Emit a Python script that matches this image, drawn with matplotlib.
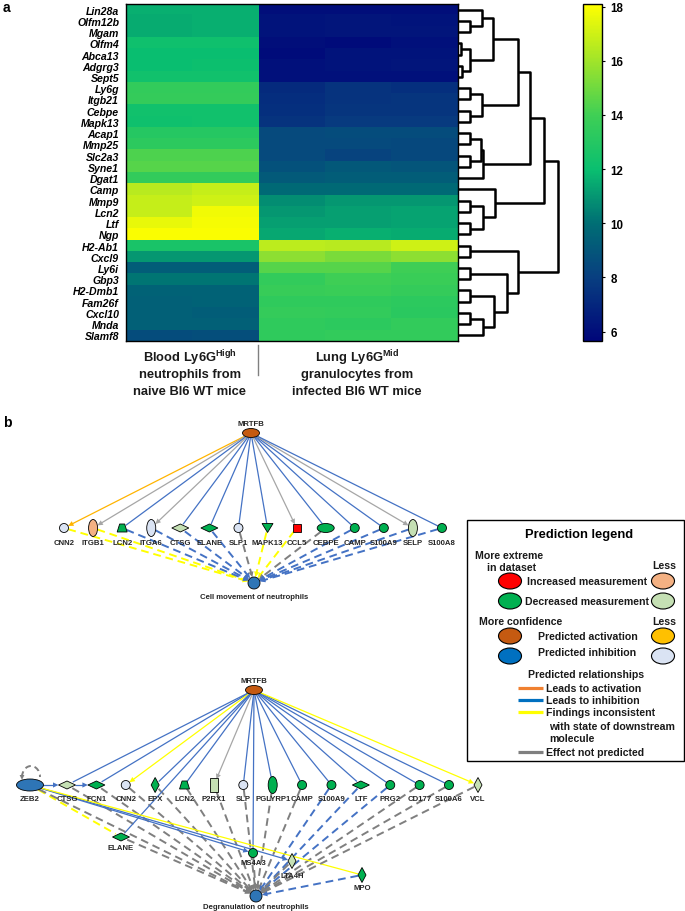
import matplotlib.pyplot as plt
import numpy as np
from matplotlib.colors import LinearSegmentedColormap
from matplotlib.patches import Ellipse, Polygon, Rectangle, Arc

plt.rcParams['font.family'] = ['Liberation Sans', 'DejaVu Sans']
plt.rcParams['mathtext.fontset'] = 'custom'
plt.rcParams['mathtext.bf'] = 'Liberation Sans:bold'
plt.rcParams['mathtext.rm'] = 'Liberation Sans'

W, H = 685, 912

# ---------------- panel a data ----------------
genes = ['Lin28a', 'Olfm12b', 'Mgam', 'Olfm4', 'Abca13', 'Adgrg3', 'Sept5', 'Ly6g',
         'Itgb21', 'Cebpe', 'Mapk13', 'Acap1', 'Mmp25', 'Slc2a3', 'Syne1', 'Dgat1',
         'Camp', 'Mmp9', 'Lcn2', 'Ltf', 'Ngp', 'H2-Ab1', 'Cxcl9', 'Ly6i', 'Gbp3',
         'H2-Dmb1', 'Fam26f', 'Cxcl10', 'Mnda', 'Slamf8']
blood_rep1 = [11.6, 11.5, 11.5, 12.2, 12.0, 12.0, 12.3, 13.5, 13.6, 12.3, 12.2, 13.0, 13.3, 14.3, 14.5,
              13.5, 16.5, 16.8, 16.8, 17.6, 18.0, 12.6, 11.0, 9.3, 10.2, 9.5, 9.4, 9.4, 9.4, 8.6]
blood_rep2 = [11.6, 11.6, 11.6, 12.2, 12.0, 12.1, 12.3, 13.5, 13.6, 12.3, 12.3, 13.0, 13.3, 14.3, 14.5,
              13.5, 16.8, 17.0, 17.8, 17.9, 18.0, 12.6, 11.0, 9.3, 10.2, 9.5, 9.5, 9.3, 9.4, 8.7]
lung_rep1 = [6.0, 6.2, 6.2, 6.0, 5.9, 6.1, 6.1, 7.2, 7.3, 7.4, 7.5, 8.5, 8.5, 8.5, 8.8,
             9.2, 9.8, 10.8, 11.0, 11.2, 11.4, 16.6, 15.6, 14.5, 13.5, 13.7, 13.4, 13.6, 13.4, 13.4]
lung_rep2 = [6.0, 6.3, 6.3, 5.9, 6.2, 6.2, 6.1, 7.5, 7.5, 7.6, 7.8, 8.6, 8.5, 8.2, 9.1,
             9.3, 9.8, 11.0, 11.2, 11.2, 11.6, 16.5, 15.2, 14.5, 14.0, 13.8, 13.4, 13.5, 13.3, 13.5]
lung_rep3 = [6.0, 6.2, 6.3, 6.1, 6.2, 6.3, 6.1, 7.4, 7.6, 7.6, 7.8, 8.6, 8.4, 8.4, 9.0,
             9.3, 9.8, 11.0, 11.3, 11.3, 11.5, 17.0, 15.6, 14.0, 13.8, 13.6, 13.3, 13.2, 13.5, 13.5]
cbar_ticks = [6, 8, 10, 12, 14, 16, 18]

# dendrogram: (height, left, right), leaves are row indices
tree_top = (35, (24, 0, (12, 1, 2)), (12, (3, 3, 4), (4, 5, 6)))
tree_a = (60, tree_top, (24, (12, 7, 8), (12, 9, 10)))
tree_b = (72, tree_a, (25, (23, (12, 11, 12), (12, 13, 14)), 15))
tree_c = (86, tree_b, (37, 16, (25, (12, 17, 18), (12, 19, 20))))
tree_d = (60, (12, 21, 22), (49, (12, 23, 24), (36, (12, 25, 26), (25, (12, 27, 28), 29))))
tree = (100, tree_c, tree_d)

# ---------------- panel b data ----------------
INC, INC_L = '#ff0000', '#f4b183'
DEC, DEC_L = '#00b050', '#c5e0b4'
ACT, ACT_L = '#c55a11', '#ffc000'
INH, INH_L = '#2e75b6', '#dae3f3'
E_BLUE, E_GRAY, E_DGRAY, E_YEL, E_ORG = '#4472c4', '#a6a6a6', '#7f7f7f', '#ffff00', '#ffb400'

top_names = ['CNN2', 'ITGB1', 'LCN2', 'ITGA6', 'CTSG', 'ELANE', 'SLP1', 'MAPK13', 'CCL5',
             'CEBPE', 'CAMP', 'S100A9', 'SELP', 'S100A8']
top_shapes = ['circle', 'vellipse', 'trapezoid', 'vellipse', 'diamond', 'diamond', 'circle',
              'triangle', 'square', 'hellipse', 'circle', 'circle', 'vellipse', 'circle']
top_fill = [INH_L, INC_L, DEC, INH_L, DEC_L, DEC, INH_L, DEC, INC, DEC, DEC, DEC, DEC_L, DEC]
top_in = [E_ORG, E_GRAY, E_BLUE, E_GRAY, E_BLUE, E_BLUE, E_BLUE, E_BLUE, E_GRAY,
          E_BLUE, E_BLUE, E_BLUE, E_GRAY, E_BLUE]
top_out = [E_YEL, E_YEL, E_BLUE, E_BLUE, E_BLUE, E_BLUE, E_DGRAY, E_YEL, E_YEL,
           E_DGRAY, E_BLUE, E_BLUE, E_BLUE, E_BLUE]

bot_names = ['CTSG', 'FCN1', 'CNN2', 'EPX', 'LCN2', 'P2RX1', 'SLP', 'PGLYRP1', 'CAMP',
             'S100A9', 'LTF', 'PRG2', 'CD177', 'S100A6']
bot_shapes = ['diamond', 'diamond', 'circle', 'vdiamond', 'trapezoid', 'rect', 'circle',
              'vellipse', 'circle', 'circle', 'diamond', 'circle', 'circle', 'circle']
bot_fill = [DEC_L, DEC, INH_L, DEC, DEC, DEC_L, INH_L, DEC, DEC, DEC, DEC, DEC, DEC, DEC]
bot_in = [E_BLUE, E_BLUE, E_YEL, E_BLUE, E_BLUE, E_GRAY, E_BLUE, E_BLUE, E_BLUE,
          E_BLUE, E_BLUE, E_BLUE, E_BLUE, E_BLUE]
bot_out = [E_DGRAY, E_DGRAY, E_DGRAY, E_DGRAY, E_DGRAY, E_DGRAY, E_DGRAY, E_DGRAY, E_DGRAY,
           E_BLUE, E_BLUE, E_BLUE, E_DGRAY, E_DGRAY]

SIZES = {'circle': (9, 9), 'vellipse': (9, 17), 'hellipse': (17, 9), 'trapezoid': (10, 8),
         'diamond': (17, 8), 'vdiamond': (8, 15), 'triangle': (11, 9), 'square': (8, 8),
         'rect': (8, 14), 'big': (27, 12), 'root': (17, 9), 'fn': (12, 12)}


def rect(x0, y0, x1, y1):
    return [x0 / W, 1 - y1 / H, (x1 - x0) / W, (y1 - y0) / H]


def draw_tree(ax, node):
    if isinstance(node, int):
        return node, 0.0
    h, a, b = node
    ya, ha = draw_tree(ax, a)
    yb, hb = draw_tree(ax, b)
    ax.plot([ha, h, h, hb], [ya, ya, yb, yb], color='k', lw=1.8,
            solid_capstyle='butt', clip_on=False)
    return (ya + yb) / 2, h


def boundary(shape, d):
    w, h = SIZES[shape]
    a, b = w / 2, h / 2
    return 1.0 / np.sqrt((d[0] / a) ** 2 + (d[1] / b) ** 2)


def node(ax, x, y, shape, fill):
    w, h = SIZES[shape]
    kw = dict(facecolor=fill, edgecolor='black', lw=0.6, zorder=3)
    if shape in ('circle', 'vellipse', 'hellipse', 'big', 'root', 'fn'):
        p = Ellipse((x, y), w, h, **kw)
    elif shape in ('diamond', 'vdiamond'):
        p = Polygon([(x - w / 2, y), (x, y - h / 2), (x + w / 2, y), (x, y + h / 2)], **kw)
    elif shape == 'trapezoid':
        p = Polygon([(x - w / 2, y + h / 2), (x - w / 4, y - h / 2), (x + w / 4, y - h / 2),
                     (x + w / 2, y + h / 2)], **kw)
    elif shape == 'triangle':
        p = Polygon([(x - w / 2, y - h / 2), (x + w / 2, y - h / 2), (x, y + h / 2)], **kw)
    else:
        p = Rectangle((x - w / 2, y - h / 2), w, h, **kw)
    ax.add_patch(p)


def edge(ax, p, sp, q, sq, color, dashed=False, head=False):
    p = np.array(p, float)
    q = np.array(q, float)
    d = (q - p) / np.hypot(*(q - p))
    a = p + d * boundary(sp, d)
    b = q - d * boundary(sq, d)
    end = b - d * 4 if head else b
    ax.plot([a[0], end[0]], [a[1], end[1]], color=color, zorder=1,
            lw=1.4 if dashed else 0.9, ls=(0, (4, 2.5)) if dashed else '-',
            solid_capstyle='butt', dash_capstyle='butt')
    if head:
        n = np.array([-d[1], d[0]])
        base = b - d * 5.5
        ax.add_patch(Polygon([b, base + n * 2.6, base - n * 2.6], closed=True,
                             facecolor=color, edgecolor='none', zorder=1.5))


def label(ax, x, y, s, size=5.6):
    ax.text(x, y, s, ha='center', va='center', fontsize=size, fontweight='bold',
            color='#262626', zorder=4)


fig = plt.figure(figsize=(W / 100, H / 100), dpi=100)

# full-figure pixel axes for panel b and free text
axn = fig.add_axes([0, 0, 1, 1])
axn.set_xlim(0, W)
axn.set_ylim(H, 0)
axn.axis('off')

# ---------------- heatmap ----------------
vmin, vmax = 5.65, 18.1
anchors = [(vmin, '#00067a'), (8, '#083f80'), (10, '#006e74'), (12, '#0abf70'),
           (14, '#3fcf55'), (16, '#a0e42a'), (vmax, '#ffff00')]
cmap = LinearSegmentedColormap.from_list(
    'hm', [((v - vmin) / (vmax - vmin), c) for v, c in anchors])

mat = np.column_stack([blood_rep1, blood_rep2, lung_rep1, lung_rep2, lung_rep3])
axh = fig.add_axes(rect(126, 5, 458, 342))
im = axh.imshow(mat, cmap=cmap, vmin=vmin, vmax=vmax, aspect='auto', interpolation='nearest')
axh.set_xticks([])
axh.set_yticks(range(len(genes)))
axh.set_yticklabels(genes, fontsize=7.6, fontweight='bold', fontstyle='italic')
axh.tick_params(axis='y', length=0, pad=5)
for s in axh.spines.values():
    s.set_linewidth(1.0)

axd = fig.add_axes(rect(458, 5, 570, 342))
axd.set_xlim(0, 112)
axd.set_ylim(len(genes) - 0.5, -0.5)
axd.axis('off')
draw_tree(axd, tree)

cax = fig.add_axes(rect(583, 5, 602, 342))
cb = fig.colorbar(im, cax=cax, ticks=cbar_ticks)
cb.outline.set_linewidth(1.0)
cax.tick_params(labelsize=8.3, length=2.5, width=0.8, direction='out')
for t in cax.get_yticklabels():
    t.set_fontweight('bold')

axn.plot([258, 258], [346, 376], color='#808080', lw=1)
for x, lines in [(190, [r'Blood Ly6G$^{\mathbf{High}}$', 'neutrophils from', 'naive Bl6 WT mice']),
                 (357, [r'Lung Ly6G$^{\mathbf{Mid}}$', 'granulocytes from', 'infected Bl6 WT mice'])]:
    for i, s in enumerate(lines):
        axn.text(x, 358 + 16.8 * i, s, ha='center', va='center', fontsize=9.3,
                 fontweight='bold', color='#1a1a1a')

axn.text(3, 8, 'a', fontsize=10, fontweight='bold', va='center', ha='left')
axn.text(3, 423, 'b', fontsize=10, fontweight='bold', va='center', ha='left')

# ---------------- network 1 ----------------
root1 = (251, 434)
cell1 = (254, 584)
xs1 = np.linspace(64, 442, len(top_names))
y1 = 529
for i, name in enumerate(top_names):
    pos = (xs1[i], y1)
    edge(axn, root1, 'root', pos, top_shapes[i], top_in[i],
         head=top_in[i] in (E_GRAY, E_ORG))
    edge(axn, pos, top_shapes[i], cell1, 'fn', top_out[i], dashed=True, head=True)
for i, name in enumerate(top_names):
    node(axn, xs1[i], y1, top_shapes[i], top_fill[i])
    label(axn, xs1[i], y1 + 15, name)
node(axn, *root1, 'root', ACT)
label(axn, root1[0], root1[1] - 9, 'MRTFB')
node(axn, *cell1, 'fn', INH)
label(axn, cell1[0], cell1[1] + 14, 'Cell movement of neutrophils')

# ---------------- network 2 ----------------
root2 = (254, 691)
degr = (256, 897)
xs2 = np.linspace(67, 449, len(bot_names))
y2 = 786
zeb2 = (30, 786)
vcl = (478, 786)
elane = (121, 838)
ms4a3 = (253, 854)
lta4h = (292, 862)
mpo = (362, 876)

for i, name in enumerate(bot_names):
    pos = (xs2[i], y2)
    edge(axn, root2, 'root', pos, bot_shapes[i], bot_in[i],
         head=bot_in[i] in (E_GRAY, E_YEL))
    edge(axn, pos, bot_shapes[i], degr, 'fn', bot_out[i], dashed=True, head=True)

edge(axn, root2, 'root', vcl, 'vdiamond', E_YEL, head=True)
edge(axn, root2, 'root', elane, 'diamond', E_BLUE)
edge(axn, root2, 'root', ms4a3, 'circle', E_BLUE)
edge(axn, zeb2, 'big', (xs2[0], y2), 'diamond', E_BLUE, head=True)
edge(axn, (xs2[0], y2), 'diamond', (xs2[1], y2), 'diamond', E_BLUE, head=True)
edge(axn, zeb2, 'big', ms4a3, 'circle', E_BLUE, head=True)
edge(axn, zeb2, 'big', lta4h, 'vdiamond', E_BLUE, head=True)
edge(axn, zeb2, 'big', mpo, 'vdiamond', E_YEL)
edge(axn, zeb2, 'big', elane, 'diamond', E_YEL, dashed=True)
for pos, shp, col in [(vcl, 'vdiamond', E_DGRAY), (zeb2, 'big', E_DGRAY),
                      (elane, 'diamond', E_DGRAY), (ms4a3, 'circle', E_DGRAY),
                      (lta4h, 'vdiamond', E_DGRAY), (mpo, 'vdiamond', E_BLUE)]:
    edge(axn, pos, shp, degr, 'fn', col, dashed=True, head=True)

# self loop on ZEB2
axn.add_patch(Arc((31, 778), 18, 22, theta1=180, theta2=360, color=E_DGRAY,
                  lw=1.4, ls=(0, (3, 2)), zorder=1))
axn.add_patch(Polygon([(22, 781), (19.6, 776), (24.4, 776)], closed=True,
                      facecolor=E_DGRAY, edgecolor='none', zorder=1.5))

for i, name in enumerate(bot_names):
    node(axn, xs2[i], y2, bot_shapes[i], bot_fill[i])
    label(axn, xs2[i], y2 + 14, name)
for pos, shp, fill, name, dy in [(zeb2, 'big', INH, 'ZEB2', 14), (vcl, 'vdiamond', DEC_L, 'VCL', 14),
                                 (elane, 'diamond', DEC, 'ELANE', 11), (ms4a3, 'circle', DEC, 'MS4A3', 10),
                                 (lta4h, 'vdiamond', DEC_L, 'LTA4H', 15), (mpo, 'vdiamond', DEC, 'MPO', 13)]:
    node(axn, pos[0], pos[1], shp, fill)
    label(axn, pos[0], pos[1] + dy, name)
node(axn, *root2, 'root', ACT)
label(axn, root2[0], root2[1] - 9, 'MRTFB')
node(axn, *degr, 'fn', INH)
label(axn, degr[0], degr[1] + 11, 'Degranulation of neutrophils')

# ---------------- prediction legend ----------------
axn.add_patch(Rectangle((467, 521), 217, 241, facecolor='white', edgecolor='black', lw=1, zorder=2))
lt = dict(fontsize=7.6, fontweight='bold', color='#1a1a1a', va='center', zorder=5)
axn.text(579, 535, 'Prediction legend', ha='center', fontsize=9.3, fontweight='bold',
         va='center', zorder=5)
axn.text(475, 556, 'More extreme', ha='left', **lt)
axn.text(487, 568, 'in dataset', ha='left', **lt)
axn.text(652, 566, 'Less', ha='left', **lt)
axn.text(479, 622, 'More confidence', ha='left', **lt)
axn.text(652, 622, 'Less', ha='left', **lt)
for y, txt, x, c1, c2 in [(582, 'Increased measurement', 527, INC, INC_L),
                          (602, 'Decreased measurement', 525, DEC, DEC_L),
                          (637, 'Predicted activation', 538, ACT, ACT_L),
                          (653, 'Predicted inhibition', 538, '#0070c0', INH_L)]:
    yy = 657 if y == 653 else y
    axn.add_patch(Ellipse((510, yy), 23, 16, facecolor=c1, edgecolor='black', lw=0.8, zorder=5))
    axn.add_patch(Ellipse((663, yy), 23, 16, facecolor=c2, edgecolor='black', lw=0.8, zorder=5))
    axn.text(x, y, txt, ha='left', **lt)
axn.text(586, 675, 'Predicted relationships', ha='center', **lt)
for y, col, txt in [(689, '#f08030', 'Leads to activation'), (701, '#0070c0', 'Leads to inhibition'),
                    (713, E_YEL, 'Findings inconsistent'), (753, E_DGRAY, 'Effect not predicted')]:
    axn.plot([518, 543], [y, y], color=col, lw=2.3, zorder=5, solid_capstyle='butt')
    axn.text(546, y, txt, ha='left', **lt)
axn.text(549, 727, 'with state of downstream', ha='left', **lt)
axn.text(549, 739, 'molecule', ha='left', **lt)

fig.savefig('out.png', dpi=100)
